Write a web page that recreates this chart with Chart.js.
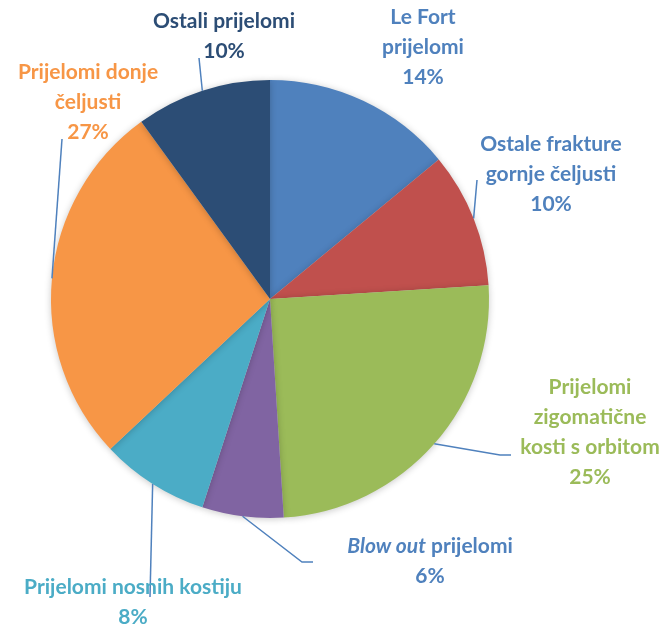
<!DOCTYPE html>
<html>
<head>
<meta charset="utf-8">
<script src="https://cdn.jsdelivr.net/npm/chart.js@4.4.1/dist/chart.umd.min.js"></script>
<style>
  html, body { margin: 0; padding: 0; background: #fff; }
  #wrap { width: 665px; height: 628px; }
</style>
</head>
<body>
<div id="wrap"><canvas id="chartPrijelomi"></canvas></div>
<script>
  const kategorije = ['Le Fort prijelomi', 'Ostale frakture gornje čeljusti', 'Prijelomi zigomatične kosti s orbitom',
    'Blow out prijelomi', 'Prijelomi nosnih kostiju', 'Prijelomi donje čeljusti', 'Ostali prijelomi'];
  const postoci = [14, 10, 25, 6, 8, 27, 10];
  const boje = ['#4F81BD', '#C0504D', '#9BBB59', '#8064A2', '#4BACC6', '#F79646', '#2C4D75'];

  // label text lines (each line is a list of [text, italic] parts) and colours
  const oznake = [
    [[['Le Fort', false]], [['prijelomi', false]]],
    [[['Ostale frakture', false]], [['gornje čeljusti', false]]],
    [[['Prijelomi', false]], [['zigomatične', false]], [['kosti s orbitom', false]]],
    [[['Blow out', true], [' prijelomi', false]]],
    [[['Prijelomi nosnih kostiju', false]]],
    [[['Prijelomi donje', false]], [['čeljusti', false]]],
    [[['Ostali prijelomi', false]]]
  ];
  const bojeOznaka = ['#4F81BD', '#4F81BD', '#9BBB59', '#4F81BD', '#4BACC6', '#F79646', '#2C4D75'];

  // label centre and leader line end points, relative to pie centre
  const rasporedOznaka = [
    { c: [153, -252], lead: [] },
    { c: [281, -125], lead: [[207, -119]] },
    { c: [320, 133], lead: [[230, 156], [241, 156]] },
    { c: [160, 262], lead: [[32, 263], [43, 263]] },
    { c: [-137, 303], lead: [[-120, 298]] },
    { c: [-182, -197], lead: [[-208, -160]] },
    { c: [-46, -263], lead: [[-71, -241]] }
  ];

  const FONT = '"Lato", "Open Sans", sans-serif';
  const SIZE = 21;
  const LINE_H = 30;

  const sjenaPlugin = {
    id: 'sjena',
    beforeDatasetDraw(chart) {
      const c = chart.ctx;
      c.save();
      c.shadowColor = 'rgba(0,0,0,0.22)';
      c.shadowBlur = 7;
      c.shadowOffsetX = 0;
      c.shadowOffsetY = 1;
    },
    afterDatasetDraw(chart) {
      chart.ctx.restore();
    }
  };

  const oznakePlugin = {
    id: 'oznake',
    afterDatasetsDraw(chart) {
      const c = chart.ctx;
      const meta = chart.getDatasetMeta(0);
      meta.data.forEach((arc, i) => {
        const p = arc.getProps(['x', 'y', 'startAngle', 'endAngle', 'outerRadius'], true);
        const cx = p.x, cy = p.y;
        const mid = (p.startAngle + p.endAngle) / 2;
        const r = rasporedOznaka[i];

        // leader line
        if (r.lead.length) {
          c.save();
          c.strokeStyle = '#4F81BD';
          c.lineWidth = 1.5;
          c.beginPath();
          c.moveTo(cx + Math.cos(mid) * p.outerRadius, cy + Math.sin(mid) * p.outerRadius);
          r.lead.forEach(pt => c.lineTo(cx + pt[0], cy + pt[1]));
          c.stroke();
          c.restore();
        }

        // text
        const lines = oznake[i].concat([[[postoci[i] + '%', false]]]);
        const top = cy + r.c[1] - (lines.length - 1) * LINE_H / 2;
        c.save();
        c.fillStyle = bojeOznaka[i];
        c.textBaseline = 'middle';
        c.textAlign = 'left';
        lines.forEach((parts, li) => {
          let w = 0;
          parts.forEach(([t, it]) => {
            c.font = (it ? 'italic ' : '') + 'bold ' + SIZE + 'px ' + FONT;
            w += c.measureText(t).width;
          });
          let x = cx + r.c[0] - w / 2;
          const y = top + li * LINE_H;
          parts.forEach(([t, it]) => {
            c.font = (it ? 'italic ' : '') + 'bold ' + SIZE + 'px ' + FONT;
            c.fillText(t, x, y);
            x += c.measureText(t).width;
          });
        });
        c.restore();
      });
    }
  };

  const ctx = document.getElementById('chartPrijelomi');

  new Chart(ctx, {
    type: 'pie',
    data: {
      labels: kategorije,
      datasets: [{
        data: postoci,
        backgroundColor: boje,
        borderWidth: 0
      }]
    },
    options: {
      responsive: true,
      maintainAspectRatio: false,
      animation: false,
      layout: {
        padding: { left: 51, right: 176, top: 80, bottom: 110 }
      },
      plugins: {
        legend: { display: false },
        tooltip: { enabled: false }
      }
    },
    plugins: [sjenaPlugin, oznakePlugin]
  });
</script>
</body>
</html>
